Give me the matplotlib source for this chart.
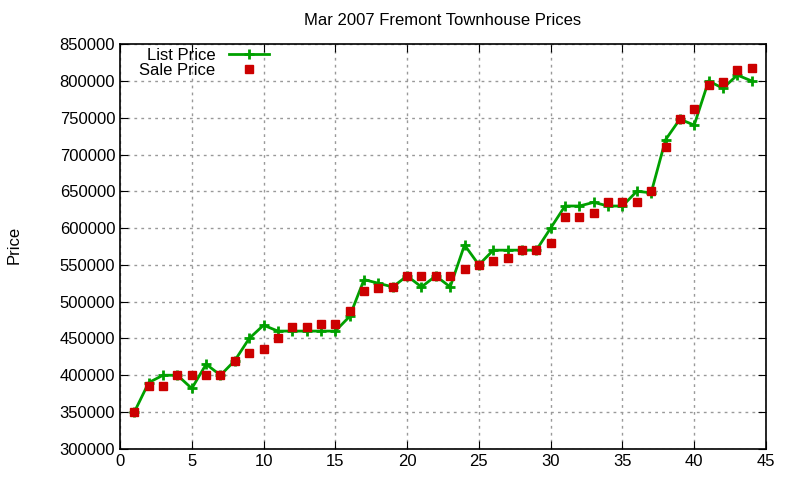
import matplotlib
matplotlib.use("Agg")
import matplotlib.pyplot as plt

plt.rcParams['font.family'] = ['Liberation Sans', 'DejaVu Sans']

house = list(range(1, 45))
list_price = [350000, 390000, 400000, 400000, 382000, 415000, 400000, 420000, 450000, 468000,
              460000, 460000, 460000, 460000, 460000, 480000, 530000, 525000, 520000, 535000,
              520000, 535000, 520000, 577000, 550000, 570000, 570000, 570000, 570000, 600000,
              630000, 630000, 635000, 630000, 630000, 650000, 648000, 720000, 748000, 740000,
              800000, 790000, 808000, 800000]
sale_price = [350000, 385000, 385000, 400000, 400000, 400000, 400000, 420000, 430000, 435000,
              450000, 465000, 465000, 470000, 470000, 487000, 515000, 518000, 520000, 535000,
              535000, 535000, 535000, 545000, 550000, 555000, 560000, 570000, 570000, 580000,
              615000, 615000, 620000, 635000, 635000, 635000, 650000, 710000, 748000, 762000,
              795000, 798000, 815000, 817000]

fig = plt.figure(figsize=(8, 4.8), dpi=100)
ax = fig.add_axes([0.15, 0.065, 0.8075, 0.843])

ax.plot(house, list_price, '-+', color='#00a000', lw=2, ms=7, mew=2, label='List Price')
ax.plot(house, sale_price, 's', color='#cc0000', ms=6, ls='none', label='Sale Price')

ax.set_xlim(0, 45)
ax.set_ylim(300000, 850000)
ax.set_xticks(range(0, 46, 5))
ax.set_yticks(range(300000, 850001, 50000))
ax.tick_params(direction='in', top=True, right=True, labelsize=12, length=6)
ax.grid(True, ls=(0, (2, 3)), color='#999999', lw=1)
ax.set_axisbelow(True)
for s in ax.spines.values():
    s.set_linewidth(1.2)

ax.set_title('Mar 2007 Fremont Townhouse Prices', fontsize=12, pad=14)
fig.text(0.008, 0.49, 'Price', rotation=90, fontsize=12, va='center')

leg = ax.legend(loc='upper left', bbox_to_anchor=(0.012, 1.02), frameon=False, fontsize=12,
                markerfirst=False, handlelength=2.4, labelspacing=0.0, borderaxespad=0.3)
for t in leg.get_texts():
    t.set_ha('right')

fig.savefig('out.png', dpi=100)
